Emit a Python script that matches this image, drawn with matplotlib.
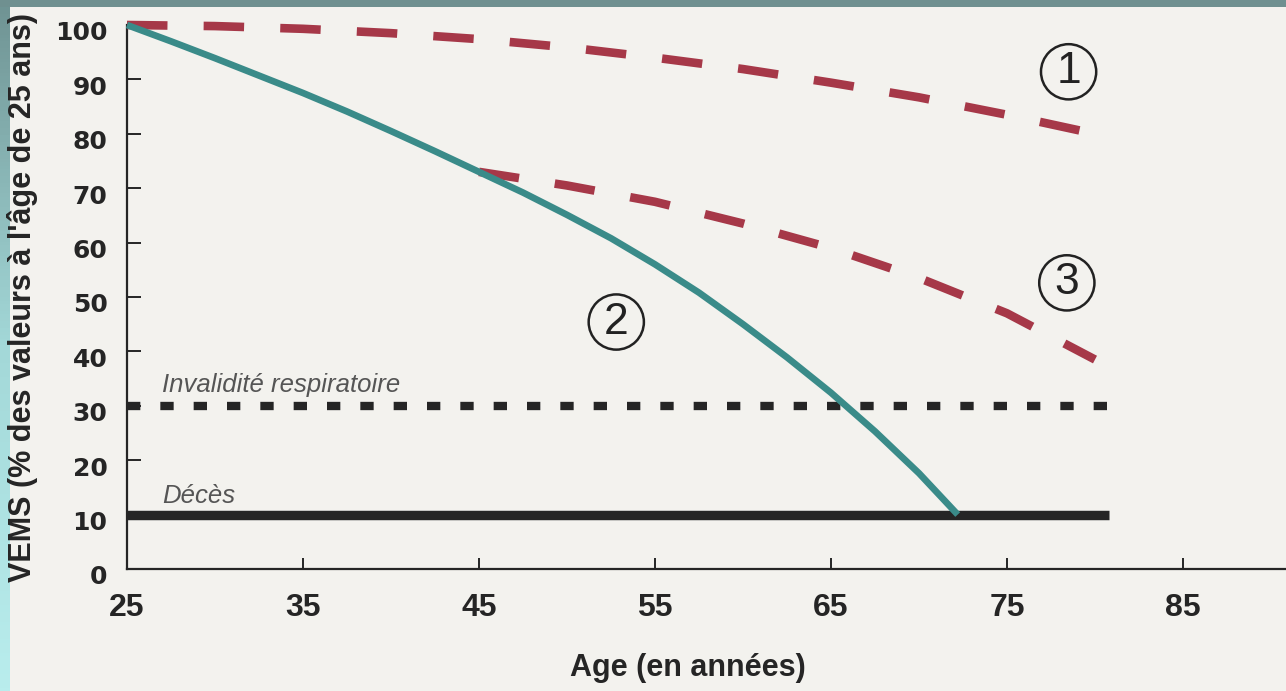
import numpy as np
import matplotlib
matplotlib.use("Agg")
import matplotlib.pyplot as plt
import matplotlib.transforms as mtransforms
from matplotlib.colors import LinearSegmentedColormap

# ---------------- data ----------------
age_ticks = [25, 35, 45, 55, 65, 75, 85]
vems_ticks = [0, 10, 20, 30, 40, 50, 60, 70, 80, 90, 100]

# curve 1 : normal decline (red dashed)
ages_1 = [25, 30, 35, 40, 45, 50, 55, 60, 65, 70, 75, 80]
vems_1 = [100, 99.8, 99.3, 98.5, 97.4, 95.9, 94.0, 91.9, 89.4, 86.7, 83.5, 80.0]

# curve 2 : smoker, continues (teal solid)
ages_2 = [25, 27.5, 30, 32.5, 35, 37.5, 40, 42.5, 45, 47.5, 50, 52.5, 55,
          57.5, 60, 62.5, 65, 67.5, 70, 72.2]
vems_2 = [100, 97.0, 93.9, 90.7, 87.5, 84.1, 80.5, 76.8, 73.0, 69.2, 65.1,
          60.8, 56.0, 50.8, 45.0, 38.9, 32.4, 25.3, 17.6, 10.0]

# curve 3 : smoking cessation at 45 (red dashed)
ages_3 = [45, 50, 55, 60, 65, 70, 75, 80]
vems_3 = [73, 70.5, 67.5, 63.5, 59, 53.5, 47, 38.5]

invalidite_level = 30
deces_level = 10
level_ages = [25, 80.8]

label_1 = ("1", 78.5, 91.4)
label_2 = ("2", 52.8, 45.4)
label_3 = ("3", 78.4, 52.6)

# ---------------- style ----------------
W, H = 1286, 691
red = "#a63848"
teal = "#3a8b89"
dark = "#252525"
page = "#f3f2ee"

fig = plt.figure(figsize=(W / 100, H / 100), dpi=100)
fig.patch.set_facecolor(page)

# slide frame: left gradient strip and top strip
axL = fig.add_axes([0, 0, 10 / W, 1])
cmap = LinearSegmentedColormap.from_list("frame", ["#6f9393", "#a3d8d8", "#b9eded"])
axL.imshow(np.linspace(0, 1, 200).reshape(-1, 1), aspect="auto", cmap=cmap,
           extent=[0, 1, 0, 1], origin="upper")
axL.axis("off")
axT = fig.add_axes([0, 1 - 7 / H, 1, 7 / H])
axT.set_facecolor("#6f9090")
axT.set_xticks([]); axT.set_yticks([])
for s in axT.spines.values():
    s.set_visible(False)

ax = fig.add_axes([127 / W, 122 / H, (W - 127) / W, (569 - 25) / H])
ax.set_facecolor("none")
ax.set_xlim(25, 25 + (W - 127) / 17.6)
ax.set_ylim(0, 100)

for side in ("top", "right"):
    ax.spines[side].set_visible(False)
for side in ("left", "bottom"):
    ax.spines[side].set_linewidth(1.6)
    ax.spines[side].set_color(dark)

ax.set_xticks(age_ticks)
ax.set_yticks(vems_ticks)
ax.set_xticklabels([str(a) for a in age_ticks], fontsize=23, fontweight="bold",
                   family="Liberation Sans", color=dark)
ax.set_yticklabels([str(v) for v in vems_ticks], fontsize=18, fontweight="bold",
                   family="DejaVu Sans", color=dark)
ax.tick_params(axis="x", direction="in", length=8, width=1.4, pad=17, colors=dark)
ax.tick_params(axis="y", direction="in", length=10, width=1.4, pad=14, colors=dark)
off = mtransforms.ScaledTranslation(0, -6 / 100, fig.dpi_scale_trans)
for lab in ax.get_yticklabels():
    lab.set_transform(lab.get_transform() + off)

# reference levels
ax.plot(level_ages, [invalidite_level] * 2, color=dark, lw=6.0,
        dashes=(1.6, 2.4), dash_capstyle="butt", zorder=2)
ax.plot(level_ages, [deces_level] * 2, color=dark, lw=6.8,
        solid_capstyle="butt", zorder=2)

# curves
ax.plot(ages_1, vems_1, color=red, lw=6.2, dashes=(4.7, 4.2),
        dash_capstyle="butt", clip_on=False, zorder=3)
ax.plot(ages_3, vems_3, color=red, lw=6.2, dashes=(4.7, 4.2),
        dash_capstyle="butt", clip_on=False, zorder=3)
ax.plot(ages_2, vems_2, color=teal, lw=4.8, solid_capstyle="butt",
        clip_on=False, zorder=4)

# labels on levels
ax.text(27.0, 32.5, "Invalidité respiratoire", style="italic", fontsize=18.5,
        family="Liberation Sans", color="#555555", va="baseline", ha="left")
ax.text(27.0, 12.1, "Décès", style="italic", fontsize=18.5,
        family="Liberation Sans", color="#555555", va="baseline", ha="left")

# circled numbers
for txt, xa, ya in (label_1, label_2, label_3):
    ax.text(xa, ya, txt, ha="center", va="center", fontsize=32,
            family="Liberation Sans", color="#222222",
            bbox=dict(boxstyle="circle,pad=0.16", fc="none", ec="#222222", lw=1.8),
            zorder=5)

fig.text(688 / W, 1 - 668 / H, "Age (en années)", ha="center", va="center",
         fontsize=22, fontweight="bold", family="Liberation Sans", color=dark)
fig.text(23 / W, 1 - 297 / H, "VEMS (% des valeurs à l'âge de 25 ans)",
         ha="center", va="center", rotation=90, fontsize=22, fontweight="bold",
         family="Liberation Sans", color=dark)

fig.savefig("out.png", dpi=100, facecolor=fig.get_facecolor())
